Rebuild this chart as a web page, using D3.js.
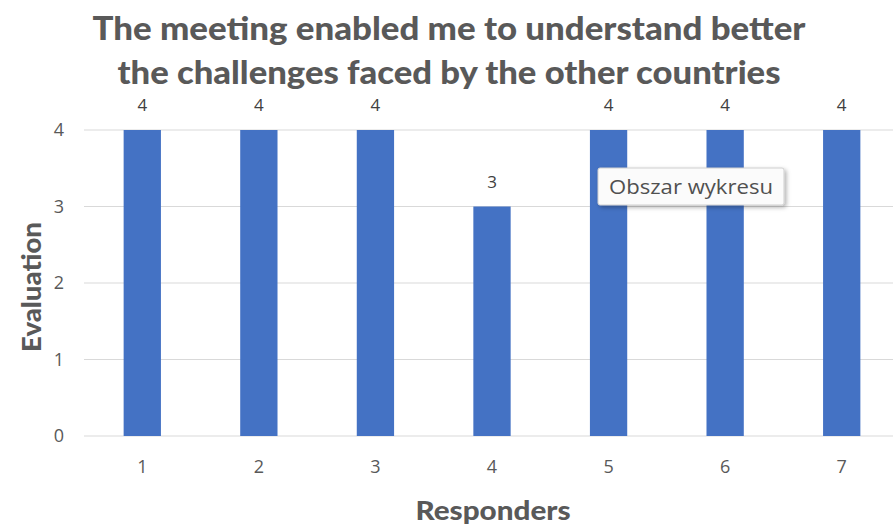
<!DOCTYPE html>
<html><head><meta charset="utf-8">
<script src="https://cdn.jsdelivr.net/npm/d3@7"></script>
<style>body{margin:0;background:#fff;overflow:hidden}</style>
</head><body>
<svg id="c" width="893" height="529"></svg>
<script>
const categories = ["1","2","3","4","5","6","7"];
const values = [4,4,4,3,4,4,4];
const yTicks = [0,1,2,3,4];
const titleLines = ["The meeting enabled me to understand better","the challenges faced by the other countries"];
const xTitle = "Responders";
const yTitle = "Evaluation";
const tooltipText = "Obszar wykresu";

(function(){
const svg = d3.select("#c");
const pLeft = 84, pRight = 900, pTop = 130, pBottom = 436;
const x = d3.scaleBand().domain(categories).range([pLeft, pRight]).paddingInner(0.68).paddingOuter(0.34);
const y = d3.scaleLinear().domain([0,4]).range([pBottom, pTop]);

// gridlines
svg.append("g").selectAll("line").data(yTicks).join("line")
  .attr("x1", pLeft).attr("x2", pRight)
  .attr("y1", d=>y(d)).attr("y2", d=>y(d))
  .attr("stroke", "#d9d9d9").attr("stroke-width", 1);

// bars
svg.append("g").selectAll("rect").data(values).join("rect")
  .attr("x", (d,i)=>x(categories[i])).attr("width", x.bandwidth())
  .attr("y", d=>y(d)).attr("height", d=>y(0)-y(d))
  .attr("fill", "#4472c4");

// data labels
svg.append("g").selectAll("text").data(values).join("text")
  .attr("x", (d,i)=>x(categories[i])+x.bandwidth()/2)
  .attr("y", d=>y(d)-19)
  .attr("text-anchor","middle")
  .attr("font-family","Open Sans, sans-serif").attr("font-size",17)
  .attr("fill","#404040").text(d=>d);

// y axis
const yAxis = svg.append("g").attr("transform",`translate(${pLeft},0)`)
  .call(d3.axisLeft(y).tickValues(yTicks).tickSize(0).tickPadding(20).tickFormat(d3.format("d")));
yAxis.select(".domain").remove();
yAxis.selectAll("text").attr("font-family","Open Sans, sans-serif").attr("font-size",18).attr("fill","#595959");

// x axis
const xAxis = svg.append("g").attr("transform",`translate(0,${pBottom})`)
  .call(d3.axisBottom(x).tickSize(0).tickPadding(24));
xAxis.select(".domain").remove();
xAxis.selectAll("text").attr("font-family","Open Sans, sans-serif").attr("font-size",18).attr("fill","#595959");

// title
svg.append("g").selectAll("text").data(titleLines).join("text")
  .attr("x", 449).attr("y",(d,i)=>40+i*44)
  .attr("text-anchor","middle")
  .attr("font-family","Lato, sans-serif").attr("font-weight","900").attr("font-size",32)
  .attr("textLength",(d,i)=>i===0?713:663).attr("lengthAdjust","spacingAndGlyphs")
  .attr("fill","#595959").text(d=>d);

// axis titles
svg.append("text").attr("x",493).attr("y",520).attr("text-anchor","middle")
  .attr("font-family","Lato, sans-serif").attr("font-weight","900").attr("font-size",27)
  .attr("textLength",155).attr("lengthAdjust","spacingAndGlyphs")
  .attr("fill","#595959").text(xTitle);
svg.append("text").attr("transform","translate(41,287) rotate(-90)").attr("text-anchor","middle")
  .attr("font-family","Lato, sans-serif").attr("font-weight","900").attr("font-size",27)
  .attr("textLength",130).attr("lengthAdjust","spacingAndGlyphs")
  .attr("fill","#595959").text(yTitle);

// tooltip
const defs = svg.append("defs");
const f = defs.append("filter").attr("id","sh").attr("x","-10%").attr("y","-20%").attr("width","130%").attr("height","160%");
f.append("feDropShadow").attr("dx",2).attr("dy",2).attr("stdDeviation",2).attr("flood-color","#000").attr("flood-opacity",0.3);
const tt = svg.append("g").attr("transform","translate(598,168)");
tt.append("rect").attr("width",186).attr("height",37).attr("rx",2)
  .attr("fill","#fbfbfb").attr("stroke","#cfcfcf").attr("filter","url(#sh)");
tt.append("text").attr("x",93).attr("y",26).attr("text-anchor","middle")
  .attr("font-family","Open Sans, sans-serif").attr("font-size",20)
  .attr("textLength",164).attr("lengthAdjust","spacingAndGlyphs")
  .attr("fill","#505050").text(tooltipText);
})();
</script>
</body></html>
